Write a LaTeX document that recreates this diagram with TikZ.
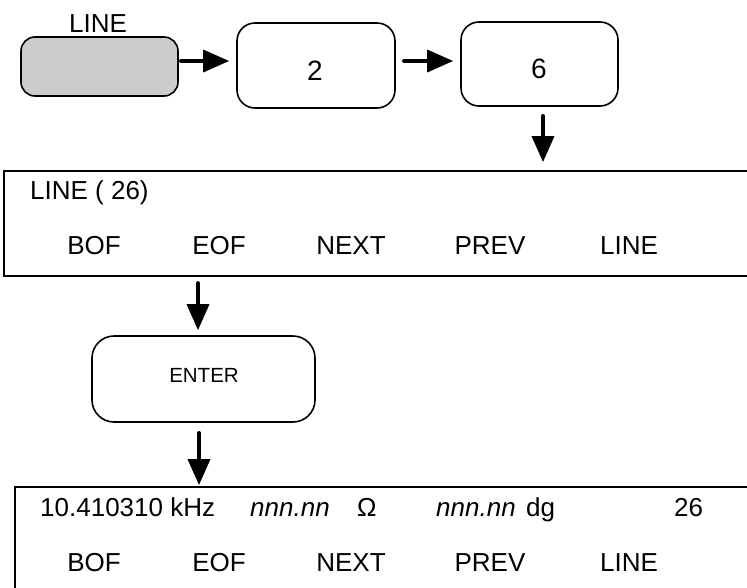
\documentclass[tikz,border=0pt]{standalone}
\usepackage{fontspec}
\setmainfont{Liberation Sans}
\usetikzlibrary{arrows.meta}
\begin{document}
\begin{tikzpicture}[x=1pt,y=-1pt,
  keybox/.style={draw,line width=1.6pt,rounded corners=14pt,inner sep=0pt},
  disp/.style={draw,line width=1.8pt,rectangle,inner sep=0pt},
  arr/.style={line width=3.5pt,line cap=round,-{Triangle[length=26pt,width=22pt]}},
  big/.style={font=\fontsize{28}{32}\selectfont,inner sep=0pt},
  dtext/.style={font=\fontsize{26}{30}\selectfont,inner sep=0pt},
  small/.style={font=\fontsize{20.5}{24}\selectfont}]
\clip (0,0) rectangle (747,587);
\fill[white] (0,0) rectangle (747,587);
% top keys
\node[keybox,fill=black!20,minimum width=157pt,minimum height=59pt] (g) at (99.5,66.5) {};
\node[dtext,anchor=base] (glabel) at (98,32) {LINE};
\node[keybox,rounded corners=18pt,minimum width=158pt,minimum height=85pt] (b2) at (316,65.5) {};
\node[big,anchor=base] (t2) at (315,80) {2};
\node[keybox,rounded corners=18pt,minimum width=157pt,minimum height=84pt] (b6) at (539.5,64) {};
\node[big,anchor=base] (t6) at (539,78) {6};
\draw[arr,shorten <=2pt,shorten >=7pt] ([yshift=5.5pt]g.east) -- ([yshift=5.5pt]g.east -| b2.west);
\draw[arr,shorten <=8pt,shorten >=7pt] ([yshift=4.5pt]b2.east) -- ([yshift=4.5pt]b2.east -| b6.west);
% top display
\node[disp,minimum width=796pt,minimum height=105pt] (top) at (402,223.5) {};
\draw[arr,shorten <=9pt,shorten >=8pt] ([xshift=3.5pt]b6.south) -- ([xshift=3.5pt]b6.south |- top.north);
\node[dtext,anchor=base west] (t1) at (30,199) {LINE ( 26)};
\node[dtext,anchor=base] (s1) at (94,254) {BOF};
\node[dtext,anchor=base] (s2) at (219,254) {EOF};
\node[dtext,anchor=base] (s3) at (351,254) {NEXT};
\node[dtext,anchor=base] (s4) at (490,254) {PREV};
\node[dtext,anchor=base] (s5) at (629,254) {LINE};
% enter key
\node[keybox,rounded corners=22pt,minimum width=223pt,minimum height=86pt] (enter) at (203.5,379) {};
\node[small] (entertext) at (204,375) {ENTER};
\draw[arr,shorten <=6pt,shorten >=5pt] ([xshift=-5.5pt]enter.north |- top.south) -- ([xshift=-5.5pt]enter.north);
% bottom display
\node[disp,minimum width=785pt,minimum height=163pt] (bot) at (407.5,568.5) {};
\draw[arr,shorten <=10pt,shorten >=1pt] ([xshift=-4.5pt]enter.south) -- ([xshift=-4.5pt]enter.south |- bot.north);
\node[dtext,anchor=base west] (u1) at (40,516) {10.410310 kHz};
\node[dtext,anchor=base west] (u2) at (250,516) {\itshape nnn.nn};
\node[dtext,anchor=base west] (u3) at (357,516) {Ω};
\node[dtext,anchor=base west] (u4) at (436,516) {\itshape nnn.nn};
\node[dtext,anchor=base west] (u5) at (526,516) {dg};
\node[dtext,anchor=base west] (u6) at (674,516) {26};
\node[dtext,anchor=base] (v1) at (94,571) {BOF};
\node[dtext,anchor=base] (v2) at (219,571) {EOF};
\node[dtext,anchor=base] (v3) at (351,571) {NEXT};
\node[dtext,anchor=base] (v4) at (490,571) {PREV};
\node[dtext,anchor=base] (v5) at (629,571) {LINE};
\end{tikzpicture}
\end{document}
